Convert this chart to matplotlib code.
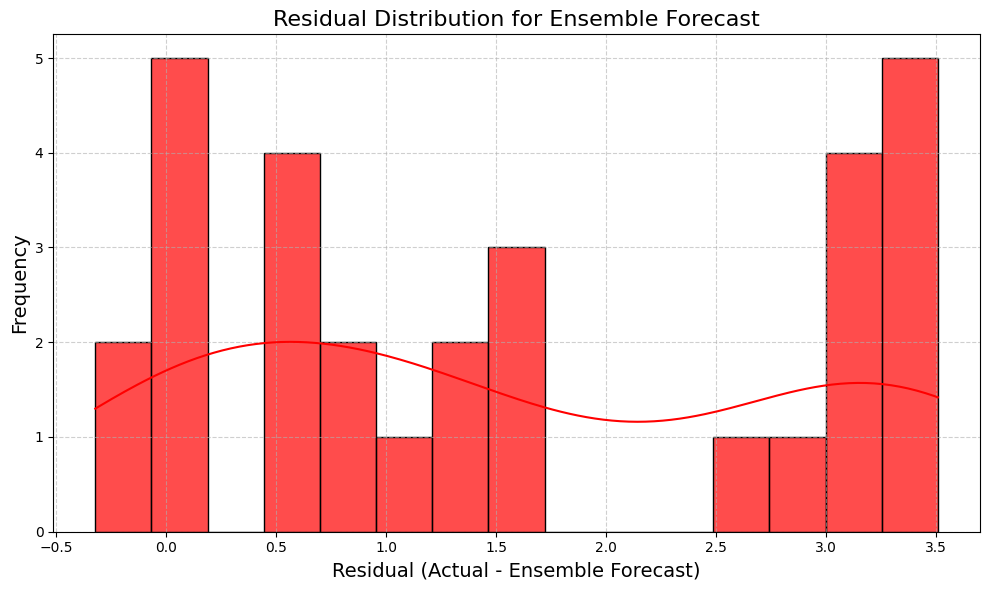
import numpy as np
import matplotlib.pyplot as plt
import seaborn as sns

residuals = [
    -0.323, -0.12,
    -0.04, 0.02, 0.07, 0.12, 0.17,
    0.45, 0.52, 0.59, 0.67,
    0.75, 0.88,
    1.10,
    1.30, 1.41,
    1.51, 1.59, 1.67,
    2.62,
    2.88,
    3.04, 3.11, 3.18, 3.24,
    3.30, 3.37, 3.43, 3.48, 3.509,
]
n_bins = 15

fig, ax = plt.subplots(figsize=(10, 6), dpi=100)
sns.histplot(residuals, bins=n_bins, kde=True, color='red', alpha=0.7,
             edgecolor='black', ax=ax)
ax.lines[0].set_color('red')
ax.set_title('Residual Distribution for Ensemble Forecast', fontsize=16)
ax.set_xlabel('Residual (Actual - Ensemble Forecast)', fontsize=14)
ax.set_ylabel('Frequency', fontsize=14)
ax.grid(True, linestyle='--', alpha=0.6)
plt.tight_layout()
plt.savefig('out.png', bbox_inches='tight')
plt.close()
